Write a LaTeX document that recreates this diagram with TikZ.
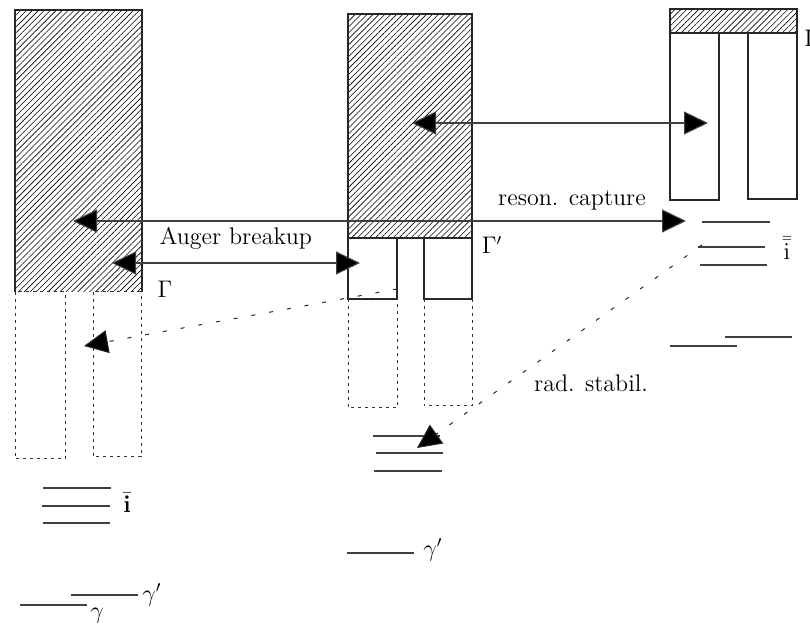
\documentclass[tikz,border=0pt]{standalone}
\usetikzlibrary{arrows.meta,patterns.meta}
\begin{document}
\begin{tikzpicture}[x=0.5pt,y=-0.5pt,
  every node/.style={font=\fontsize{12}{14}\selectfont, inner sep=0pt},
  hatchfill/.style={pattern={Lines[angle=45,distance=2.1pt,line width=0.3pt]}},
  boxline/.style={line width=0.55pt, draw=black!85},
  dotbox/.style={line width=0.5pt, draw=black!80, dash pattern=on 1.5pt off 2pt},
  level/.style={line width=0.55pt, draw=black!75},
  biarrow/.style={line width=0.55pt, draw=black!75, {Triangle[length=12pt,width=11.5pt,fill=black]}-{Triangle[length=12pt,width=11.5pt,fill=black]}},
  dasharrow/.style={line width=0.5pt, draw=black!85, dash pattern=on 2pt off 7pt, -{Triangle[length=12pt,width=11.5pt,fill=black]}}]
\useasboundingbox (0,0) rectangle (810,625);

% ---- left system ----
\fill[hatchfill] (15,10) rectangle (142,292);
\draw[boxline] (15,292) -- (15,10) -- (142,10) -- (142,292);
\draw[dotbox] (15,292) rectangle (65,459);
\draw[dotbox] (93,292) rectangle (141,457);

% ---- middle system ----
\fill[hatchfill] (348,14) rectangle (472,238);
\draw[boxline] (348,14) rectangle (472,238);
\draw[boxline] (348,238) -- (348,299) -- (397,299) -- (397,238);
\draw[boxline] (424,238) -- (424,299) -- (472,299) -- (472,238);
\draw[dotbox] (348,299) rectangle (397,408);
\draw[dotbox] (424,299) rectangle (472,406);

% ---- right system ----
\fill[hatchfill] (670,9) rectangle (797,33);
\draw[boxline] (670,9) rectangle (797,33);
\draw[boxline] (670,33) rectangle (719,200);
\draw[boxline] (748,33) rectangle (797,199);

% ---- levels ----
\draw[level] (702,222) -- (770,222);
\draw[level] (698,247) -- (765,247);
\draw[level] (700,265) -- (767,265);
\draw[level] (725,337) -- (792,337);
\draw[level] (670,346) -- (737,346);

\draw[level] (373,436) -- (440,436);
\draw[level] (376,453) -- (443,453);
\draw[level] (374,471) -- (442,471);
\draw[level] (347,553) -- (414,553);

\draw[level] (43,488) -- (111,488);
\draw[level] (42,506) -- (110,506);
\draw[level] (43,523) -- (110,523);
\draw[level] (71,595) -- (138,595);
\draw[level] (20,605) -- (87,605);

% ---- arrow end points ----
\coordinate (topL) at (412,123);
\coordinate (topR) at (708,123);
\coordinate (resL) at (73,221);
\coordinate (resR) at (686,221);
\coordinate (augL) at (112,263);
\coordinate (augR) at (360,263);
\coordinate (d1s) at (397,289);
\coordinate (d1e) at (84,346);
\coordinate (d2s) at (702,245);
\coordinate (d2e) at (417,448);

\draw[biarrow] (topL) -- (topR);
\draw[biarrow] (resL) -- (resR);
\draw[biarrow] (augL) -- (augR);
\draw[dasharrow] (d1s) -- (d1e);
\draw[dasharrow] (d2s) -- (d2e);

% ---- labels ----
\node (lab-aug) at (236,238) {Auger breakup};
\node (lab-res) at (572,200) {reson. capture};
\node (lab-rad) at (591,383) {rad. stabil.};
\node (lab-G1) at (165,289) {$\Gamma$};
\node (lab-G2) at (492,245) {$\Gamma'$};
\node[anchor=west] (lab-G3) at (804,38) {$\Gamma''$};
\node (lab-i2) at (787,248) {$\bar{\bar{\mathrm{i}}}$};
\node (lab-i1) at (127,503) {$\bar{\mathbf{i}}$};
\node (lab-g1) at (152,595) {$\gamma'$};
\node (lab-g0) at (97,616) {$\gamma$};
\node (lab-g2) at (433,550) {$\gamma'$};
\end{tikzpicture}
\end{document}
